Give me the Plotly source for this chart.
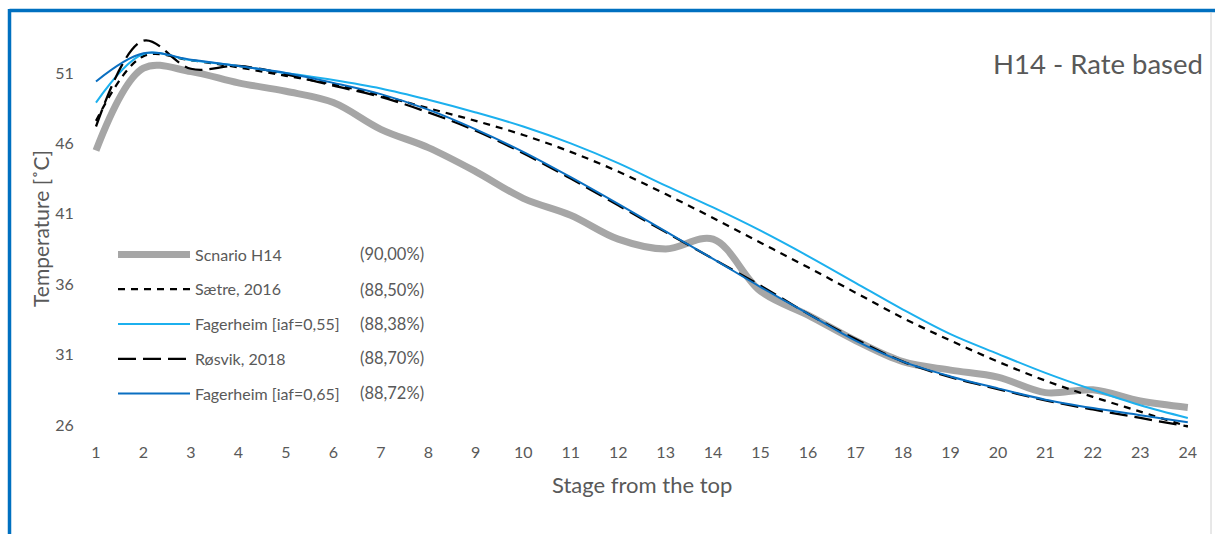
import plotly.graph_objects as go

# Stage numbers (counted from the top of the column)
stages = list(range(1, 25))

# Temperature profiles [°C] per stage
scenario_h14 = [45.5, 51.35, 51.1, 50.3, 49.7, 48.9, 47.0, 45.7, 44.0, 42.1, 40.9, 39.2,
                38.5, 39.2, 35.5, 33.8, 32.0, 30.5, 29.9, 29.4, 28.3, 28.5, 27.7, 27.25]
saetre_2016 = [47.6, 52.2, 51.9, 51.4, 50.8, 50.2, 49.4, 48.5, 47.6, 46.6, 45.4, 44.0,
               42.4, 40.7, 38.95, 37.2, 35.4, 33.6, 32.0, 30.5, 29.15, 28.0, 26.95, 25.9]
fagerheim_055 = [48.9, 52.35, 51.9, 51.5, 51.0, 50.5, 49.9, 49.1, 48.2, 47.2, 46.0, 44.6,
                 43.0, 41.45, 39.8, 38.0, 36.1, 34.2, 32.45, 31.05, 29.7, 28.5, 27.4, 26.5]
rosvik_2018 = [47.2, 53.3, 51.3, 51.5, 50.9, 50.1, 49.3, 48.2, 46.9, 45.3, 43.5, 41.6,
               39.7, 37.8, 35.9, 33.9, 32.1, 30.5, 29.4, 28.55, 27.75, 27.1, 26.5, 25.9]
fagerheim_065 = [50.4, 52.4, 51.95, 51.5, 51.0, 50.3, 49.5, 48.4, 47.0, 45.4, 43.6, 41.7,
                 39.75, 37.8, 35.8, 33.9, 32.0, 30.5, 29.45, 28.6, 27.8, 27.2, 26.7, 26.2]

series_names = ["Scnario H14", "Sætre, 2016", "Fagerheim [iaf=0,55]",
                "Røsvik, 2018", "Fagerheim [iaf=0,65]"]
series_scores = ["(90,00%)", "(88,50%)", "(88,38%)", "(88,70%)", "(88,72%)"]

y_ticks = [26, 31, 36, 41, 46, 51]
x_ticks = stages

FONT = "Lato, 'Open Sans', sans-serif"
TEXT = "#595959"

# plot-area geometry in pixels
W, H = 1215, 534
L, R, T, B = 88, 10, 14, 102
PW, PH = W - L - R, H - T - B


def px_x(p):
    return (p - L) / PW


def px_y(p):
    return (H - B - p) / PH


styles = [
    dict(color="#A6A6A6", width=7),
    dict(color="#000000", width=2.25, dash="7px,6px"),
    dict(color="#1CB0EE", width=2),
    dict(color="#000000", width=2.25, dash="18px,7px"),
    dict(color="#0A6FC1", width=2),
]
values = [scenario_h14, saetre_2016, fagerheim_055, rosvik_2018, fagerheim_065]

fig = go.Figure()
for i, (name, ys, st) in enumerate(zip(series_names, values, styles)):
    fig.add_trace(go.Scatter(
        x=stages, y=ys, name=name, mode="lines",
        line=dict(shape="spline", smoothing=1, **st),
        legendgroup=f"g{i}",
    ))

annotations = [
    dict(text="H14 - Rate based", xref="paper", yref="paper",
         x=px_x(1205), y=px_y(63), xanchor="right", yanchor="middle",
         showarrow=False, font=dict(family=FONT, size=27.5, color=TEXT)),
    dict(text="Stage from the top", xref="paper", yref="paper",
         x=px_x(642), y=px_y(484), xanchor="center", yanchor="middle",
         showarrow=False, font=dict(family=FONT, size=22, color=TEXT)),
    dict(text="Temperature [˚C]", xref="paper", yref="paper",
         x=px_x(40), y=px_y(228), xanchor="center", yanchor="middle",
         textangle=-90, showarrow=False, font=dict(family=FONT, size=21, color=TEXT)),
]
row_y = [254, 290, 323.5, 358, 393]
for s, ry in zip(series_scores, row_y):
    annotations.append(dict(
        text=s, xref="paper", yref="paper", x=px_x(426), y=px_y(ry),
        xanchor="right", yanchor="middle", showarrow=False,
        font=dict(family=FONT, size=16.5, color=TEXT)))

shapes = [
    # outer frame
    dict(type="line", xref="paper", yref="paper", x0=px_x(9.5), x1=px_x(1215),
         y0=px_y(10.5), y1=px_y(10.5), line=dict(color="#0070C0", width=3.5)),
    dict(type="line", xref="paper", yref="paper", x0=px_x(9.5), x1=px_x(9.5),
         y0=px_y(9), y1=px_y(534), line=dict(color="#0070C0", width=3.5)),
    dict(type="line", xref="paper", yref="paper", x0=px_x(1211), x1=px_x(1211),
         y0=px_y(12), y1=px_y(534), line=dict(color="#D0D0D0", width=1)),
]

fig.update_layout(
    width=W, height=H,
    margin=dict(l=L, r=R, t=T, b=B),
    paper_bgcolor="white", plot_bgcolor="white",
    font=dict(family=FONT, color=TEXT),
    showlegend=True,
    legend=dict(
        x=px_x(113), y=px_y(237.5), xanchor="left", yanchor="top",
        bgcolor="rgba(0,0,0,0)", borderwidth=0,
        font=dict(family=FONT, size=16, color=TEXT),
        itemwidth=72, tracegroupgap=11,
    ),
    xaxis=dict(
        range=[1 - (96 - L) / 47.47, 24 + (W - R - 1187.8) / 47.47],
        tickvals=x_ticks, ticktext=[str(v) for v in x_ticks],
        showgrid=False, zeroline=False, showline=False,
        ticks="outside", ticklen=6, tickcolor="rgba(0,0,0,0)",
        tickfont=dict(family=FONT, size=16, color=TEXT),
    ),
    yaxis=dict(
        range=[26 - (H - B - 425) / 14.08, 51 + (73 - T) / 14.08],
        tickvals=y_ticks, ticktext=[str(v) for v in y_ticks],
        showgrid=False, zeroline=False, showline=False,
        ticks="outside", ticklen=10, tickcolor="rgba(0,0,0,0)",
        tickfont=dict(family=FONT, size=16, color=TEXT),
    ),
    annotations=annotations,
    shapes=shapes,
)

fig.write_html("out.html")
